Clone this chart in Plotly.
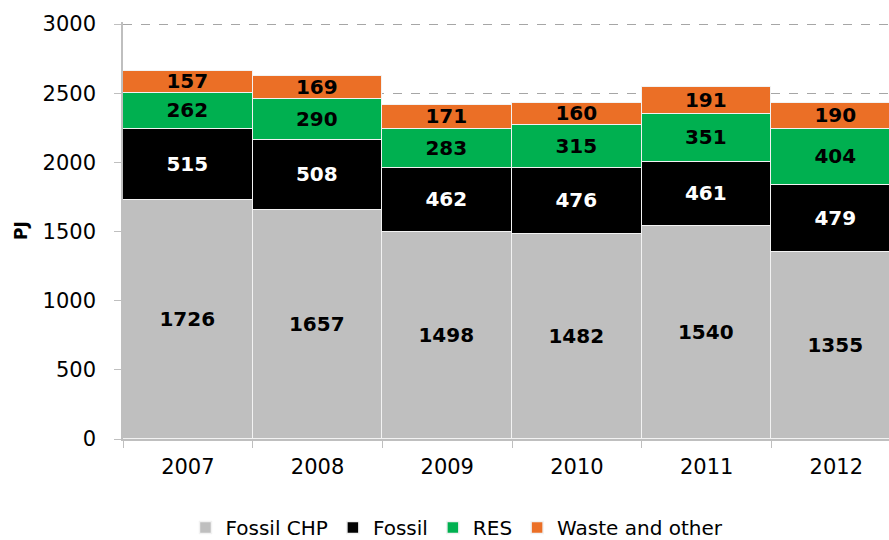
import plotly.graph_objects as go

years = ["2007", "2008", "2009", "2010", "2011", "2012"]
fossil_chp = [1726, 1657, 1498, 1482, 1540, 1355]
fossil = [515, 508, 462, 476, 461, 479]
res = [262, 290, 283, 315, 351, 404]
waste = [157, 169, 171, 160, 191, 190]

series = [
    ("Fossil CHP", fossil_chp, "#BFBFBF", "black"),
    ("Fossil", fossil, "#000000", "white"),
    ("RES", res, "#00B050", "black"),
    ("Waste and other", waste, "#EB6F26", "black"),
]

FONT = "DejaVu Sans"

fig = go.Figure()
for name, vals, color, tcolor in series:
    fig.add_trace(go.Bar(
        x=years, y=vals, name=name,
        marker=dict(color=color, line=dict(color="#F2F2F2", width=1.5)),
        text=[str(v) for v in vals],
        textposition="inside", insidetextanchor="middle", constraintext="none",
        textfont=dict(family=FONT, size=20, color=tcolor, weight="bold"),
        hoverinfo="skip",
    ))

fig.update_layout(
    barmode="stack", bargap=0,
    width=889, height=540,
    margin=dict(l=123, r=0, t=22, b=101, autoexpand=False),
    plot_bgcolor="white", paper_bgcolor="white",
    font=dict(family=FONT, size=21, color="black"),
    showlegend=True,
    legend=dict(orientation="h", x=0.436, xanchor="center", y=-0.212, yanchor="middle",
                font=dict(family=FONT, size=20), traceorder="normal"),
    xaxis=dict(range=[-0.5, 5.406], showline=True, linecolor="#BFBFBF", linewidth=1.5,
               ticks="outside", tickson="boundaries", ticklen=7, tickcolor="#BFBFBF",
               tickfont=dict(family=FONT, size=21), ticklabelstandoff=8,
               showgrid=False, zeroline=False, automargin=False),
    yaxis=dict(range=[0, 3015], tickvals=[0, 500, 1000, 1500, 2000, 2500, 3000],
               showline=True, linecolor="#BFBFBF", linewidth=1.5,
               ticks="outside", ticklen=7, tickcolor="#BFBFBF",
               tickfont=dict(family=FONT, size=21), ticklabelstandoff=14,
               showgrid=True, gridcolor="#A6A6A6", griddash="dash", gridwidth=1,
               zeroline=False, automargin=False,
               title=dict(text="<b>PJ</b>", font=dict(family=FONT, size=17), standoff=11)),
)

fig.write_html(
    "out.html",
    config={"displayModeBar": False},
    post_script="document.body.style.margin='0';document.body.style.overflow='hidden';",
)
